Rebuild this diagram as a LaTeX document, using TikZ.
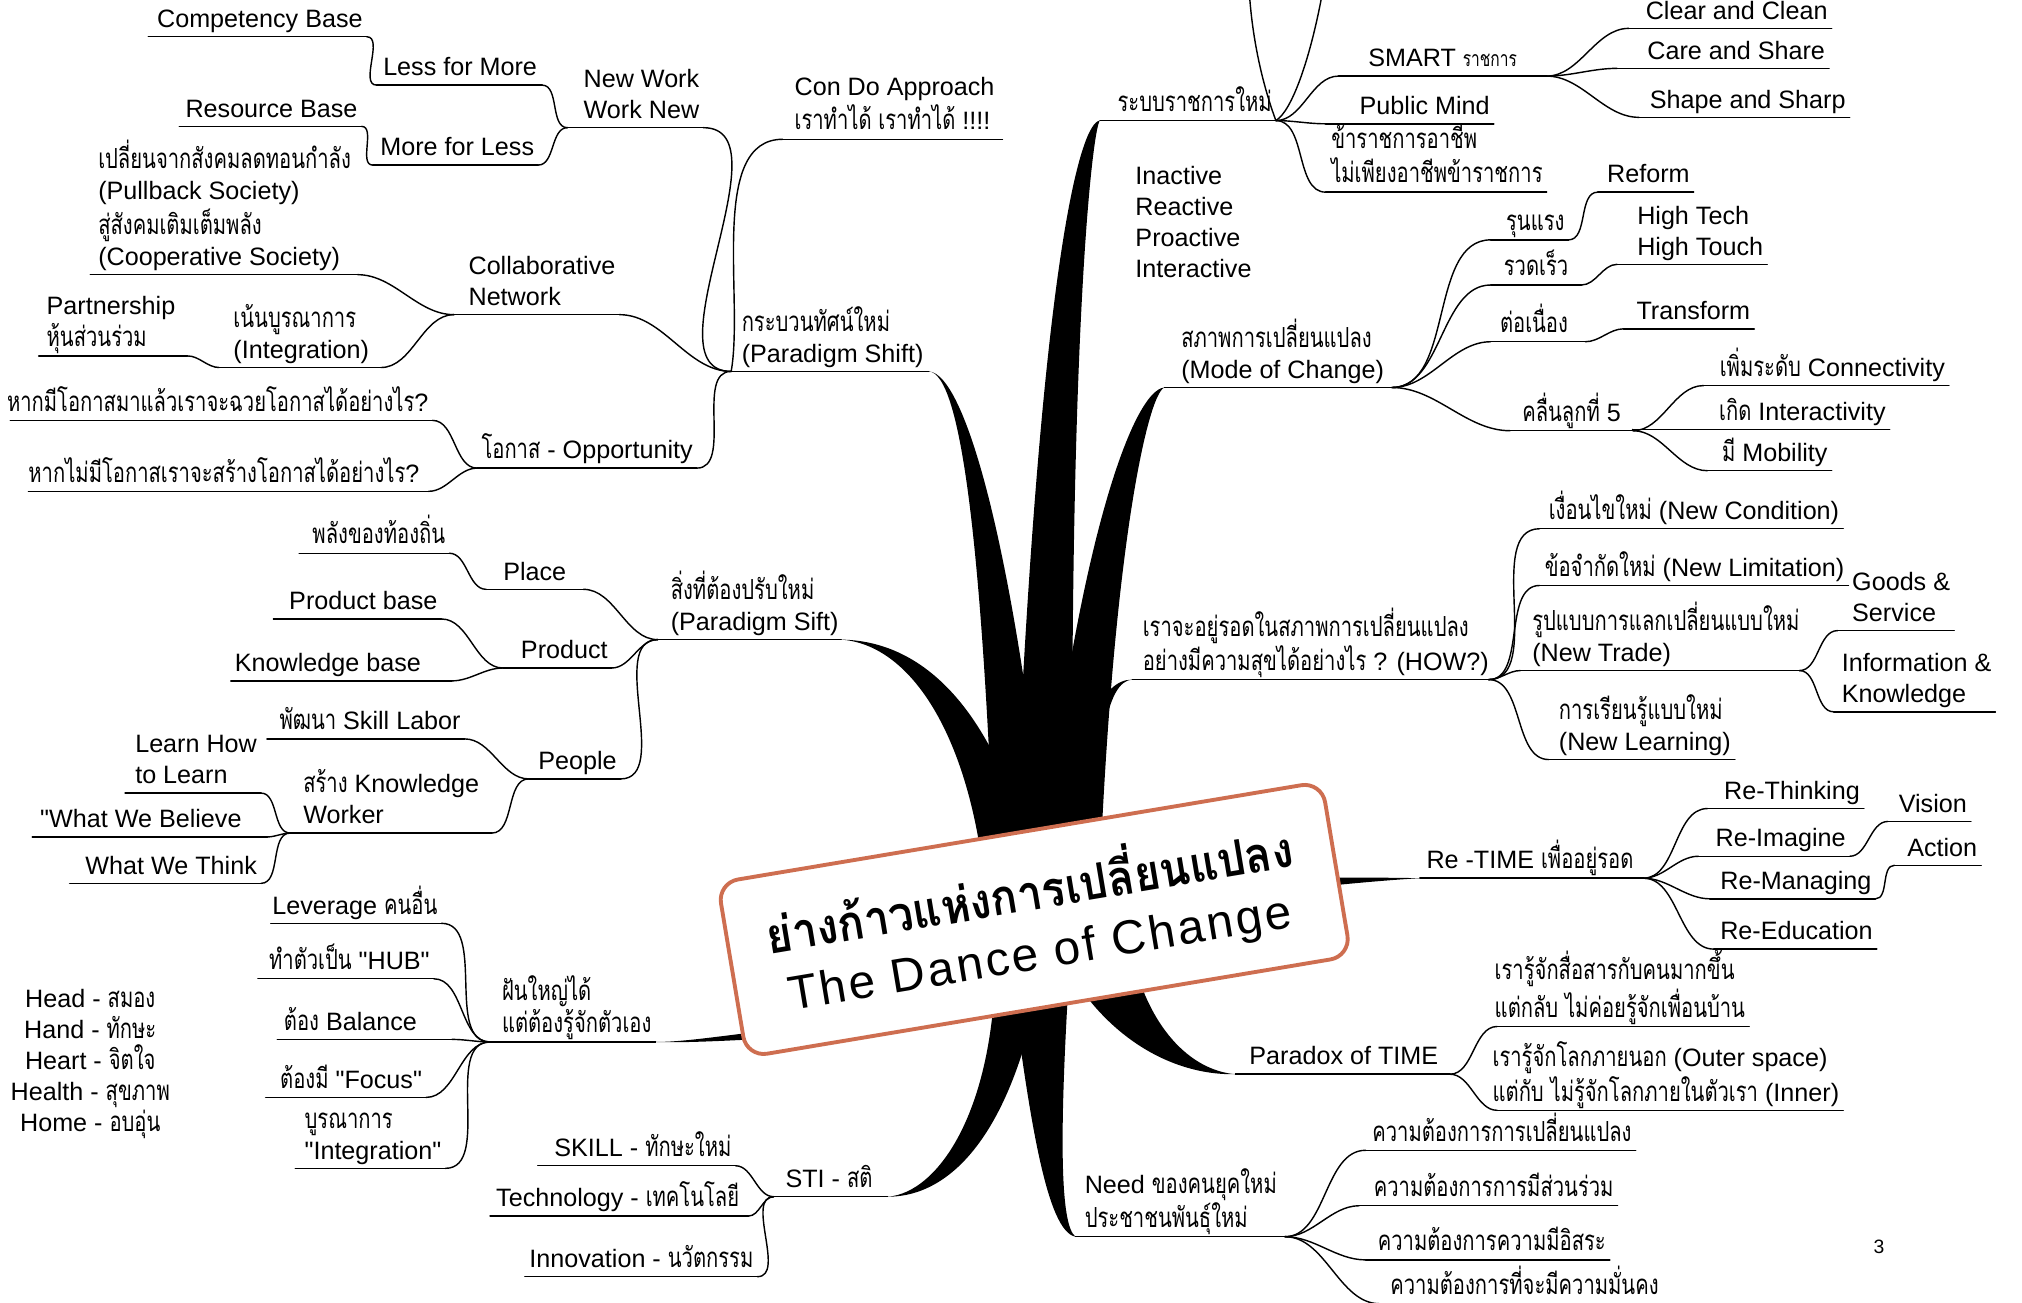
\documentclass[tikz,border=0pt]{standalone}
\usepackage{fontspec}
\setmainfont{Liberation Sans}[Ligatures=TeXOff]
\newfontfamily\thf[Script=Thai, Scale=1.1, FakeStretch=0.73]{Loma}
\newfontfamily\thtitle[Script=Thai, FakeStretch=0.9]{Loma}
\newcommand\thx[1]{{\thf #1}}
\newcommand\ml[1]{\begin{tabular}[b]{@{}l@{}}#1\end{tabular}}
\definecolor{boxc}{RGB}{206,110,80}

\tikzset{
  topic/.style={inner xsep=3pt, inner ysep=2pt, text depth=5pt, font=\fontsize{19.5}{24}\selectfont},
  conn/.style={line width=1.1pt, line cap=round},
  link/.style={conn, out=0, in=180, looseness=0.9},
  trunk/.style={fill=black},
}
% topic text over an underline running from x1 to x2 at height y
\newcommand\tnode[6]{%
  \pgfmathsetmacro\tw{#3-#2-6}%
  \node[topic, anchor=south west] (#1) at (#2,#4) {\makebox[\tw pt][#5]{#6}};%
  \draw[conn] (#1.south west) -- (#1.south east);}

\begin{document}
\begin{tikzpicture}[x=1pt,y=-1pt]
\useasboundingbox (0,0) rectangle (1568,1010);
\fill[white] (0,0) rectangle (1568,1010);

% ---------- left side ----------
\tnode{compb}{115}{284}{28.5}{r}{Competency Base}
\tnode{lessm}{292}{420}{66}{l}{\hspace*{2pt}Less for More}
\tnode{newwork}{440}{545}{99}{r}{\ml{New Work\\Work New}}
\tnode{resb}{139}{280}{98}{r}{Resource Base}
\tnode{morel}{289}{417}{128}{r}{More for Less}
\tnode{condo}{607}{777}{108}{l}{\hspace*{6pt}\ml{Con Do Approach\\\thx{เราทำได้ เราทำได้} !!!!}}
\tnode{pull}{70}{277}{213}{l}{\hspace*{3pt}\ml{\thx{เปลี่ยนจากสังคมลดทอนกำลัง}\\(Pullback Society)\\\thx{สู่สังคมเติมเต็มพลัง}\\(Cooperative Society)}}
\tnode{collab}{352}{480}{244}{r}{\ml{Collaborative\\Network}}
\tnode{partner}{30}{145}{276}{l}{\hspace*{3pt}\ml{Partnership\\\thx{หุ้นส่วนร่วม}}}
\tnode{integ}{170}{295}{285}{r}{\ml{\thx{เน้นบูรณาการ}\\(Integration)}\hspace*{6pt}}
\tnode{pshift}{567}{720}{288}{l}{\hspace*{5pt}\ml{\thx{กระบวนทัศน์ใหม่}\\(Paradigm Shift)}}
\tnode{opp1}{8}{335}{326}{r}{\thx{หากมีโอกาสมาแล้วเราจะฉวยโอกาสได้อย่างไร}?}
\tnode{opp2}{22}{332}{381}{r}{\thx{หากไม่มีโอกาสเราจะสร้างโอกาสได้อย่างไร}?\hspace*{4pt}}
\tnode{opp}{370}{540}{363}{r}{\thx{โอกาส} - Opportunity}
\tnode{local}{232}{348}{429}{r}{\thx{พลังของท้องถิ่น}}
\tnode{place}{377}{452}{457}{c}{Place}
\tnode{prodbase}{212}{342}{480}{r}{Product base}
\tnode{knowbase}{179}{350}{528}{l}{Knowledge base}
\tnode{product}{390}{474}{518}{r}{Product}
\tnode{psift}{510}{652}{496}{l}{\hspace*{7pt}\ml{\thx{สิ่งที่ต้องปรับใหม่}\\(Paradigm Sift)}}
\tnode{skilllab}{207}{360}{573}{r}{\thx{พัฒนา} Skill Labor}
\tnode{people}{410}{481}{604}{r}{People}
\tnode{learn}{97}{202}{615}{r}{\ml{Learn How\\to Learn}}
\tnode{kworker}{225}{381}{646}{l}{\hspace*{7pt}\ml{\thx{สร้าง} Knowledge\\Worker}}
\tnode{believe}{25}{207}{649}{l}{\hspace*{3pt}"What We Believe}
\tnode{think}{54}{202}{685}{r}{What We Think}
\tnode{leverage}{210}{342}{716}{r}{Leverage \thx{คนอื่น}}
\tnode{hub}{200}{336}{759}{r}{\thx{ทำตัวเป็น} "HUB"}
\tnode{balance}{215}{350}{806}{l}{\hspace*{2pt}\thx{ต้อง} Balance}
\tnode{focus}{206}{330}{851}{r}{\thx{ต้องมี} "Focus"}
\tnode{integb}{229}{345}{906}{r}{\ml{\thx{บูรณาการ}\\"Integration"}}
\tnode{dream}{380}{508}{808}{r}{\ml{\thx{ฝันใหญ่ได้}\\\thx{แต่ต้องรู้จักตัวเอง}}}
\tnode{skillb}{417}{570}{904}{r}{SKILL - \thx{ทักษะใหม่}}
\tnode{tech}{380}{580}{943}{r}{Technology - \thx{เทคโนโลยี}\hspace*{4pt}}
\tnode{innov}{407}{587}{990}{r}{Innovation - \thx{นวัตกรรม}}
\tnode{sti}{600}{688}{928}{l}{\hspace*{6pt}STI - \thx{สติ}}

\node[font=\fontsize{19.5}{24}\selectfont, align=center] (hlist) at (70,825)
  {Head - \thx{สมอง}\\Hand - \thx{ทักษะ}\\Heart - \thx{จิตใจ}\\Health - \thx{สุขภาพ}\\Home - \thx{อบอุ่น}};

% ---------- right side ----------
\tnode{rabob}{853}{989}{93.5}{r}{\thx{ระบบราชการใหม่}}
\tnode{smart}{1038}{1199}{59}{c}{SMART {\fontsize{15}{16}\selectfont\thx{ราชการ}}}
\tnode{clear}{1263}{1420}{22}{r}{Clear and Clean}
\tnode{care}{1254}{1418}{53}{r}{Care and Share}
\tnode{shape}{1271}{1434}{91}{r}{Shape and Sharp}
\tnode{public}{1028}{1158}{96}{r}{Public Mind}
\tnode{career}{1028}{1199}{149}{r}{\ml{\thx{ข้าราชการอาชีพ}\\\thx{ไม่เพียงอาชีพข้าราชการ}}}
\tnode{mode}{903}{1079}{300.5}{r}{\ml{\thx{สภาพการเปลี่ยนแปลง}\\(Mode of Change)}\hspace*{3pt}}
\tnode{rusn}{1156}{1216}{186}{r}{\thx{รุนแรง}}
\tnode{reform}{1239}{1313}{149}{r}{Reform}
\tnode{fast}{1156}{1226}{221}{l}{\hspace*{7pt}\thx{รวดเร็ว}}
\tnode{hitech}{1254}{1370}{205}{r}{\ml{High Tech\\High Touch}}
\tnode{cont}{1156}{1229}{265}{l}{\hspace*{4pt}\thx{ต่อเนื่อง}}
\tnode{transform}{1259}{1360}{255}{r}{Transform}
\tnode{wave}{1171}{1266}{334}{c}{\thx{คลื่นลูกที่} 5}
\tnode{connect}{1321}{1511}{299}{r}{\thx{เพิ่มระดับ} Connectivity}
\tnode{inter}{1266}{1465}{333}{r}{\thx{เกิด} Interactivity}
\tnode{mob}{1324}{1420}{365}{r}{\thx{มี} Mobility}
\tnode{how}{878}{1154}{527}{l}{\hspace*{5pt}\ml{\thx{เราจะอยู่รอดในสภาพการเปลี่ยนแปลง}\\\thx{อย่างมีความสุขได้อย่างไร} ? (HOW?)}}
\tnode{cond}{1194}{1429}{410}{r}{\thx{เงื่อนไขใหม่} (New Condition)}
\tnode{limit}{1194}{1433}{454}{r}{\thx{ข้อจำกัดใหม่} (New Limitation)}
\tnode{trade}{1179}{1395}{520}{l}{\hspace*{6pt}\ml{\thx{รูปแบบการแลกเปลี่ยนแบบใหม่}\\(New Trade)}}
\tnode{goods}{1425}{1515}{489}{r}{\ml{Goods \&\\Service}}
\tnode{info}{1422}{1547}{552}{r}{\ml{Information \&\\Knowledge}}
\tnode{learnnew}{1201}{1345}{589}{r}{\ml{\thx{การเรียนรู้แบบใหม่}\\(New Learning)}}
\tnode{retime}{1101}{1274}{681}{l}{\hspace*{2pt}Re -TIME \thx{เพื่ออยู่รอด}}
\tnode{rethink}{1324}{1445}{627}{r}{Re-Thinking}
\tnode{reimag}{1317}{1434}{664}{r}{Re-Imagine}
\tnode{vision}{1464}{1528}{637}{r}{Vision}
\tnode{remanag}{1326}{1454}{697}{r}{Re-Managing}
\tnode{action}{1469}{1536}{671}{r}{Action}
\tnode{reedu}{1329}{1455}{736}{r}{Re-Education}
\tnode{comm}{1161}{1356}{796}{r}{\ml{\thx{เรารู้จักสื่อสารกับคนมากขึ้น}\\\thx{แต่กลับ ไม่ค่อยรู้จักเพื่อนบ้าน}}}
\tnode{outer}{1161}{1429}{861}{r}{\ml{\thx{เรารู้จักโลกภายนอก} (Outer space)\\\thx{แต่กับ ไม่รู้จักโลกภายในตัวเรา} (Inner)}}
\tnode{paradox}{958}{1124}{833}{r}{Paradox of TIME\hspace*{6pt}}
\tnode{need}{834}{996}{959}{l}{\hspace*{4pt}\ml{Need \thx{ของคนยุคใหม่}\\\thx{ประชาชนพันธุ์ใหม่}}}
\tnode{na}{1059}{1268}{892}{r}{\thx{ความต้องการการเปลี่ยนแปลง}}
\tnode{nb}{1054}{1254}{935}{r}{\thx{ความต้องการการมีส่วนร่วม}}
\tnode{nc}{1059}{1248}{977}{r}{\thx{ความต้องการความมีอิสระ}}
\tnode{nd}{1070}{1295}{1011}{r}{\thx{ความต้องการที่จะมีความมั่นคง}\hspace*{6pt}}

\node[font=\fontsize{19.5}{24}\selectfont, align=left, anchor=west] (states) at (877,172)
  {Inactive\\Reactive\\Proactive\\Interactive};
\node[font=\fontsize{15}{18}\selectfont] (pnum) at (1457,967) {3};

% ---------- thin connectors ----------
\draw[link] (compb.south east) to (lessm.south west);
\draw[link] (lessm.south east) to (newwork.south west);
\draw[link] (resb.south east) to (morel.south west);
\draw[link] (morel.south east) to (newwork.south west);
\draw[link] (newwork.south east) to (pshift.south west);
\draw[conn] (pshift.south west) to[out=80,in=180,looseness=0.8] (condo.south west);
\draw[link] (pull.south east) to (collab.south west);
\draw[link] (partner.south east) to (integ.south west);
\draw[link] (integ.south east) to (collab.south west);
\draw[link] (collab.south east) to (pshift.south west);
\draw[link] (opp1.south east) to (opp.south west);
\draw[link] (opp2.south east) to (opp.south west);
\draw[link] (opp.south east) to (pshift.south west);
\draw[link] (local.south east) to (place.south west);
\draw[link] (place.south east) to (psift.south west);
\draw[link] (prodbase.south east) to (product.south west);
\draw[link] (knowbase.south east) to (product.south west);
\draw[link] (product.south east) to (psift.south west);
\draw[link] (skilllab.south east) to (people.south west);
\draw[link] (learn.south east) to (kworker.south west);
\draw[link] (believe.south east) to (kworker.south west);
\draw[link] (think.south east) to (kworker.south west);
\draw[link] (kworker.south east) to (people.south west);
\draw[link] (people.south east) to (psift.south west);
\draw[link] (leverage.south east) to (dream.south west);
\draw[link] (hub.south east) to (dream.south west);
\draw[link] (balance.south east) to (dream.south west);
\draw[link] (focus.south east) to (dream.south west);
\draw[link] (integb.south east) to (dream.south west);
\draw[link] (skillb.south east) to (sti.south west);
\draw[link] (tech.south east) to (sti.south west);
\draw[link] (innov.south east) to (sti.south west);

\coordinate (upA) at (969,-3);
\coordinate (upB) at (1025,-3);
\draw[conn] (rabob.south east) .. controls (977,60) and (971,25) .. (upA);
\draw[conn] (rabob.south east) .. controls (1002,86) and (1016,45) .. (upB);
\draw[link] (rabob.south east) to (smart.south west);
\draw[link] (rabob.south east) to (public.south west);
\draw[link] (rabob.south east) to (career.south west);
\draw[link] (smart.south east) to (clear.south west);
\draw[link] (smart.south east) to (care.south west);
\draw[link] (smart.south east) to (shape.south west);
\draw[link] (mode.south east) to (rusn.south west);
\draw[link] (mode.south east) to (fast.south west);
\draw[link] (mode.south east) to (cont.south west);
\draw[link] (mode.south east) to (wave.south west);
\draw[link] (rusn.south east) to (reform.south west);
\draw[link] (fast.south east) to (hitech.south west);
\draw[link] (cont.south east) to (transform.south west);
\draw[link] (wave.south east) to (connect.south west);
\draw[link] (wave.south east) to (inter.south west);
\draw[link] (wave.south east) to (mob.south west);
\draw[link] (how.south east) to (cond.south west);
\draw[link] (how.south east) to (limit.south west);
\draw[link] (how.south east) to (trade.south west);
\draw[link] (how.south east) to (learnnew.south west);
\draw[link] (trade.south east) to (goods.south west);
\draw[link] (trade.south east) to (info.south west);
\draw[link] (retime.south east) to (rethink.south west);
\draw[link] (retime.south east) to (reimag.south west);
\draw[link] (retime.south east) to (remanag.south west);
\draw[link] (retime.south east) to (reedu.south west);
\draw[link] (reimag.south east) to (vision.south west);
\draw[link] (remanag.south east) to (action.south west);
\draw[link] (paradox.south east) to (comm.south west);
\draw[link] (paradox.south east) to (outer.south west);
\draw[link] (need.south east) to (na.south west);
\draw[link] (need.south east) to (nb.south west);
\draw[link] (need.south east) to (nc.south west);
\draw[link] (need.south east) to (nd.south west);

% ---------- tapered main branches ----------
\fill[trunk] (pshift.south east) .. controls (745,290) and (762,420) .. (772,700)
  -- (815,700) .. controls (790,440) and (750,290) .. (pshift.south east) -- cycle;
\fill[trunk] (psift.south east) .. controls (708,500) and (755,575) .. (765,700)
  -- (808,700) .. controls (780,560) and (722,497) .. (psift.south east) -- cycle;
\fill[trunk] (rabob.south west) .. controls (838,94) and (805,200) .. (785,700)
  -- (832,700) .. controls (828,250) and (848,96) .. (rabob.south west) -- cycle;
\fill[trunk] (mode.south west) .. controls (878,302) and (832,430) .. (805,700)
  -- (852,700) .. controls (862,430) and (890,305) .. (mode.south west) -- cycle;
\fill[trunk] (how.south west) .. controls (855,527) and (836,560) .. (815,700)
  -- (850,700) .. controls (848,580) and (858,528) .. (how.south west) -- cycle;
\fill[trunk] (retime.south west) .. controls (1050,680) and (950,680) .. (850,688)
  -- (850,712) .. controls (950,694) and (1050,684) .. (retime.south west) -- cycle;
\fill[trunk] (paradox.south west) .. controls (905,834) and (852,800) .. (822,740)
  -- (878,740) .. controls (890,795) and (922,830) .. (paradox.south west) -- cycle;
\fill[trunk] (need.south west) .. controls (812,955) and (798,870) .. (782,740)
  -- (830,740) .. controls (821,880) and (822,950) .. (need.south west) -- cycle;
\fill[trunk] (sti.south east) .. controls (742,928) and (790,870) .. (810,740)
  -- (772,740) .. controls (772,860) and (728,925) .. (sti.south east) -- cycle;
\fill[trunk] (dream.south east) .. controls (540,808) and (580,799) .. (700,788)
  -- (700,800) .. controls (580,806) and (540,809) .. (dream.south east) -- cycle;

% ---------- central title ----------
\node[draw=boxc, line width=3pt, fill=white, rounded corners=16pt,
      minimum width=475pt, minimum height=137pt, rotate=9.5, align=center,
      inner sep=0pt, font=\fontsize{38}{46}\selectfont] (title) at (802,713)
  {{\thtitle\bfseries ย่างก้าวแห่งการเปลี่ยนแปลง}\\
   {\fontsize{37}{46}\selectfont\addfontfeature{LetterSpace=6}The Dance of Change}};
\end{tikzpicture}
\end{document}
